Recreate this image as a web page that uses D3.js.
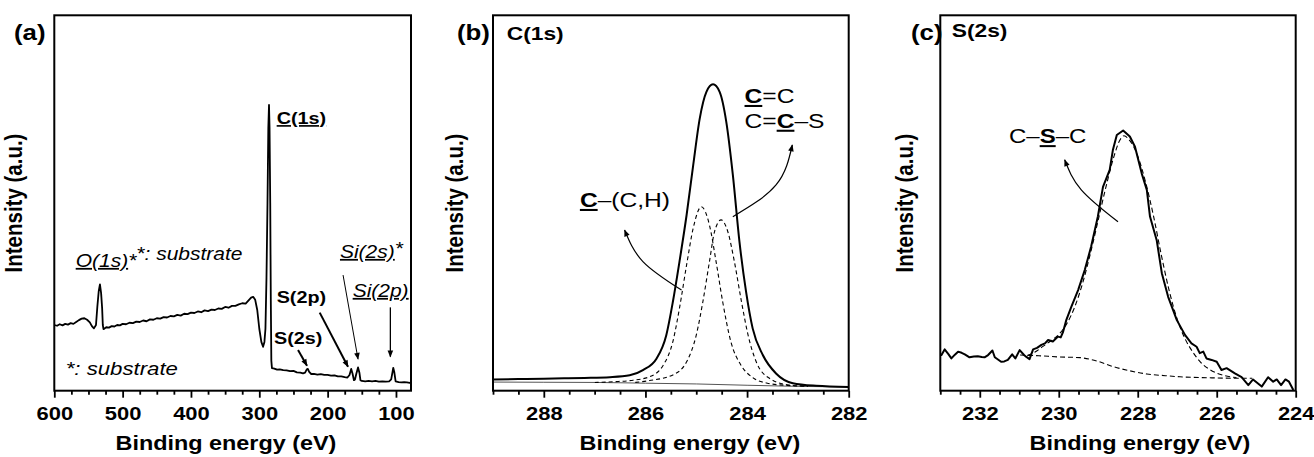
<!DOCTYPE html>
<html><head><meta charset="utf-8">
<script src="https://cdn.jsdelivr.net/npm/d3@7"></script>
<style>body{margin:0;background:#fff}svg{display:block}</style>
</head><body>
<svg id="chart" width="1314" height="457"></svg>
<script>
// ---------------- DATA (binding energy eV, intensity a.u.) ----------------
const surveyData = [[600,17.5],[596,17.3],[592,17.7],[588,17.4],[584,17.8],[580,17.6],[576,18.0],[572,17.8],[568,18.3],[564,18.8],[560,19.2],[556,19.3],[552,18.9],[548,18.2],[545,17.2],[542,16.6],[539,17.5],[537,22.4],[535,26.5],[533.2,28.3],[531.5,26.0],[530,22.0],[529,17.5],[528,16.4],[524,16.9],[520,16.8],[516,17.2],[512,17.1],[508,17.5],[504,17.4],[500,17.8],[495,17.7],[490,18.1],[485,18.0],[480,18.4],[475,18.3],[470,18.7],[465,18.5],[460,19.0],[455,18.9],[450,19.3],[445,19.2],[440,19.6],[435,19.5],[430,19.9],[425,19.8],[420,20.2],[415,20.0],[410,20.5],[405,20.4],[400,20.8],[395,20.7],[390,21.1],[385,20.9],[380,21.4],[375,21.2],[370,21.6],[365,21.5],[360,21.9],[355,21.8],[350,22.3],[345,22.1],[340,22.6],[335,22.6],[330,23.0],[325,23.3],[320,23.2],[316,24.0],[312,24.8],[309,25.0],[306,24.2],[303,21.5],[300,16.5],[297,13.0],[294.5,11.7],[292.5,13.0],[291,16.5],[289.5,30],[288,50],[286.8,70],[285.8,76.1],[285,70],[284,50],[283.2,25],[282.4,8.0],[281.5,6.0],[278,5.9],[274,5.6],[270,5.7],[265,5.5],[260,5.4],[255,5.2],[250,5.3],[245,4.9],[240,4.8],[236,4.6],[233,4.8],[230.5,5.7],[229,5.8],[227,5.0],[224,4.45],[220,4.5],[215,4.3],[210,4.4],[205,4.2],[200,4.2],[195,4.0],[190,4.1],[185,3.8],[180,3.8],[175,3.6],[171,3.5],[168,4.2],[165.5,5.8],[163.5,4.5],[161.5,2.8],[160,3.0],[158,4.5],[155.5,6.2],[153.5,4.8],[152,2.8],[150,2.6],[145,2.5],[140,2.6],[135,2.5],[130,2.6],[125,2.4],[120,2.5],[115,2.4],[110,2.5],[107,3.0],[105,5.0],[104,6.1],[102.5,5.0],[100.5,2.5],[96,2.3],[92,2.2],[88,2.3],[84,2.2],[80,2.1],[78,2.2]];

const c1sMeasured = [[289,3.0],[288.5,3.1],[288,3.2],[287.6,3.3],[287.2,3.4],[286.7,3.6],[286.31,4.1],[286.05,5.5],[285.78,8.6],[285.59,14.8],[285.46,23.7],[285.33,34.4],[285.19,46.8],[285.06,60.1],[284.93,72.6],[284.8,79.6],[284.67,81.6],[284.54,79.6],[284.41,71.7],[284.28,57.5],[284.15,39.7],[284.02,26.4],[283.89,16.6],[283.69,9.5],[283.43,4.6],[283.1,2.0],[282.64,1.3],[282,1.0]];
const c1sBackground = [[289,2.3],[288,2.25],[287,2.2],[286,2.0],[285,1.8],[284,1.45],[283,1.15],[282,1.0]];
const c1sComponentCH = [[287.0,2.2],[286.6,2.4],[286.24,2.8],[285.92,3.7],[285.65,6.8],[285.46,13.1],[285.33,22.0],[285.19,33.5],[285.06,43.3],[284.9,49.0],[284.74,44.1],[284.61,34.4],[284.48,23.7],[284.32,13.1],[284.12,6.8],[283.9,3.6],[283.6,2.0],[283.2,1.4],[282.8,1.2]];
const c1sComponentCC = [[286.2,2.2],[285.92,2.7],[285.46,4.2],[285.19,7.7],[285.0,14.8],[284.87,23.7],[284.74,34.4],[284.64,42.4],[284.51,45.5],[284.38,42.4],[284.25,34.4],[284.11,23.7],[283.98,14.8],[283.82,7.7],[283.56,3.3],[283.17,1.5],[282.8,1.2]];

const s2sMeasured = [[233.0,9.5],[232.97,9.5],[232.89,11.0],[232.8,9.8],[232.72,8.6],[232.63,9.6],[232.55,10.4],[232.46,10.1],[232.38,9.7],[232.26,8.9],[232.15,9.1],[232.05,9.2],[231.95,9.0],[231.88,8.9],[231.79,9.5],[231.68,10.7],[231.62,8.9],[231.46,7.7],[231.38,7.8],[231.29,8.2],[231.18,9.7],[231.1,8.6],[230.99,10.8],[230.88,9.5],[230.82,9.0],[230.74,8.4],[230.65,11.0],[230.55,11.4],[230.44,12.2],[230.35,12.6],[230.27,13.5],[230.15,13.1],[230.02,14.4],[229.95,14.2],[229.89,15.7],[229.81,18.8],[229.68,22.4],[229.51,26.8],[229.34,32.2],[229.18,38.4],[229.01,46.4],[228.88,54.3],[228.71,58.8],[228.63,64.1],[228.53,68.1],[228.37,69.3],[228.2,67.7],[228.07,65.0],[227.9,57.9],[227.77,53.5],[227.69,46.4],[227.52,40.1],[227.39,31.3],[227.23,25.0],[227.01,18.8],[226.8,14.8],[226.64,12.6],[226.51,11.7],[226.43,10.0],[226.34,10.4],[226.26,8.6],[226.13,8.2],[226.0,7.7],[225.88,5.5],[225.75,6.0],[225.54,4.6],[225.37,3.6],[225.2,1.5],[225.08,3.0],[224.86,1.1],[224.7,3.6],[224.57,2.4],[224.48,3.0],[224.37,1.5],[224.26,3.0],[224.17,2.4],[224.06,0.2]];
const s2sBackground = [[230.98,9.5],[230.5,9.3],[230.0,9.0],[229.46,8.8],[229.0,7.8],[228.62,6.4],[228.2,5.3],[227.77,4.45],[227.3,4.0],[226.93,3.7],[226.2,3.45],[225.41,3.3],[225.1,3.3]];
const s2sFit = [[230.8,9.4],[230.6,10.3],[230.4,11.8],[230.2,13.3],[230.0,15.0],[229.8,17.8],[229.6,22.2],[229.4,28.5],[229.2,36.5],[229.0,45.5],[228.8,54.5],[228.6,62.5],[228.45,66.8],[228.35,67.9],[228.2,66.6],[228.0,62.5],[227.8,55.5],[227.6,46.5],[227.4,36.0],[227.2,26.5],[227.0,19.0],[226.8,13.8],[226.6,10.2],[226.4,7.5],[226.2,5.8],[226.0,4.7],[225.8,4.0],[225.5,3.5]];

const ticksA = [600,500,400,300,200,100];
const ticksB = [288,286,284,282];
const ticksC = [232,230,228,226,224];
const xLabel = "Binding energy (eV)";
const yLabel = "Intensity (a.u.)";

// ---------------- LAYOUT ----------------
const FONT = "'Liberation Sans', Arial, Helvetica, sans-serif";
const SX = 1.2;
const TOP = 15.3, BOTTOM = 390.7;
const svg = d3.select('#chart');
const defs = svg.append('defs');
defs.append('marker').attr('id','arr').attr('viewBox','0 0 10 10').attr('refX',9).attr('refY',5)
  .attr('markerWidth',8).attr('markerHeight',7).attr('markerUnits','userSpaceOnUse').attr('orient','auto')
  .append('path').attr('d','M0,1 L10,5 L0,9 Z').attr('fill','#000');

function addText(g, x, y, spans, o) {
  const w = g.append('g').attr('transform', `translate(${x},${y}) scale(${o.sx||SX},1)` + (o.rotate ? ` rotate(${o.rotate})` : ''));
  const t = w.append('text').attr('font-family', FONT).attr('font-size', o.size)
    .attr('font-weight', o.weight || 'normal').attr('font-style', o.style || 'normal')
    .attr('text-anchor', o.anchor || 'start').attr('fill', '#000');
  spans.forEach(s => {
    const ts = t.append('tspan').text(s.t);
    if (s.b) ts.attr('font-weight', 'bold');
    if (s.u) ts.style('text-decoration', 'underline');
    if (s.dx != null) ts.attr('dx', s.dx);
    if (s.dy != null) ts.attr('dy', s.dy);
  });
  return t;
}

function panel(cfg) {
  const x = d3.scaleLinear().domain(cfg.domain).range([cfg.left, cfg.right]);
  const y = d3.scaleLinear().domain([0, 100]).range([BOTTOM, TOP]);
  const g = svg.append('g');
  const minorAxis = d3.axisBottom(x).tickValues(cfg.minor).tickSize(4).tickFormat('');
  const majorAxis = d3.axisBottom(x).tickValues(cfg.major).tickSize(7).tickFormat(d3.format('d'));
  const ga = g.append('g').attr('transform', `translate(0,${BOTTOM})`).call(minorAxis);
  const gb = g.append('g').attr('transform', `translate(0,${BOTTOM})`).call(majorAxis);
  [ga, gb].forEach(s => { s.select('.domain').remove(); s.selectAll('line').attr('stroke','#000').attr('stroke-width',1.8); });
  gb.selectAll('text').attr('y', 29.5).attr('dy', 0).attr('x', 0).attr('font-family', FONT).attr('font-size', 18)
    .attr('font-weight', 'bold').attr('fill', '#000').attr('transform', 'scale(1.22,1)');
  const lineLin = d3.line().x(d => x(d[0])).y(d => y(d[1]));
  const lineSm = d3.line().x(d => x(d[0])).y(d => y(d[1])).curve(d3.curveMonotoneX);
  cfg.series.forEach(s => {
    g.append('path').datum(s.data).attr('d', s.smooth ? lineSm : lineLin).attr('fill','none')
      .attr('stroke', s.color || '#000').attr('stroke-width', s.width)
      .attr('stroke-dasharray', s.dash || null).attr('stroke-linejoin','round');
  });
  g.append('rect').attr('x', cfg.left).attr('y', TOP).attr('width', cfg.right - cfg.left).attr('height', BOTTOM - TOP)
    .attr('fill','none').attr('stroke','#000').attr('stroke-width',2);
  const arrowLine = d3.line().x(d => x(d[0])).y(d => y(d[1])).curve(d3.curveNatural);
  (cfg.arrows || []).forEach(a => {
    g.append('path').datum(a.pts).attr('d', arrowLine).attr('fill','none').attr('stroke','#000')
      .attr('stroke-width', a.w).attr('marker-end','url(#arr)');
  });
  (cfg.notes || []).forEach(n => addText(g, x(n.at[0]), y(n.at[1]), n.spans, n.o));
  addText(g, cfg.xLabelX, 450, [{t: xLabel}], {size: 19.5, weight: 'bold', anchor: 'middle'});
  addText(g, cfg.yLabelX, (TOP + BOTTOM) / 2, [{t: yLabel}], {size: 20.5, weight: 'bold', anchor: 'middle', rotate: -90});
  addText(g, cfg.tagX, 40, [{t: cfg.tag}], {size: 21.5, weight: 'bold'});
}

const BOLD17 = {size: 16.5, weight: 'bold'};
const IT = {size: 17.5, style: 'italic'};

panel({
  domain: [600, 78], left: 54.3, right: 411, major: ticksA, minor: d3.range(575, 78, -25).filter(v => v % 100 !== 0),
  xLabelX: 226, yLabelX: 22, tag: '(a)', tagX: 14,
  series: [{data: surveyData, width: 1.8}],
  arrows: [
    {pts: [[243.3,10.85],[230.2,6.66]], w: 2},
    {pts: [[211.6,20.8],[170.2,6.4]], w: 2},
    {pts: [[177.4,30.8],[155.5,8.4]], w: 1},
    {pts: [[108.2,22.2],[108.2,9.06]], w: 1.3}
  ],
  notes: [
    {at: [568.7,32.95], spans: [{t:'O(1s)', u:true},{t:'*'},{t:'*: substrate', dy:-7}], o: IT},
    {at: [274.6,71.0], spans: [{t:'C(1s)', u:true}], o: BOLD17},
    {at: [583.3,4.18], spans: [{t:'*: substrate'}], o: {size: 18.5, style: 'italic'}},
    {at: [274.6,23.3], spans: [{t:'S(2p)'}], o: BOLD17},
    {at: [278.5,12.44], spans: [{t:'S(2s)'}], o: BOLD17},
    {at: [181.95,35.35], spans: [{t:'Si(2s)', u:true},{t:'*', dy:-3}], o: IT},
    {at: [163.4,24.96], spans: [{t:'Si(2p)', u:true}], o: IT}
  ]
});

panel({
  domain: [289, 282], left: 493, right: 848.7, major: ticksB, minor: d3.range(289, 281.9, -0.5).filter(v => v % 2 !== 0),
  xLabelX: 690, yLabelX: 463, tag: '(b)', tagX: 457,
  series: [
    {data: c1sBackground, width: 1, color: '#555', smooth: true},
    {data: c1sComponentCH, width: 1.1, dash: '4,3', smooth: true},
    {data: c1sComponentCC, width: 1.1, dash: '4,3', smooth: true},
    {data: c1sMeasured, width: 2, smooth: true}
  ],
  arrows: [
    {pts: [[284.28,46.35],[283.43,54.8],[283.11,65.45]], w: 1.2},
    {pts: [[285.29,26.8],[286.05,34.4],[286.41,42.8]], w: 1.2}
  ],
  notes: [
    {at: [288.73,93.3], spans: [{t:'C(1s)'}], o: {size: 19, weight: 'bold'}},
    {at: [287.29,48.9], spans: [{t:'C', b:true, u:true},{t:'–(C,H)'}], o: {size: 20.5}},
    {at: [284.05,76.6], spans: [{t:'C', b:true, u:true},{t:'=C'}], o: {size: 20.5}},
    {at: [284.05,70.0], spans: [{t:'C='},{t:'C', b:true, u:true},{t:'–S'}], o: {size: 20.5}}
  ]
});

panel({
  domain: [233, 224], left: 940.3, right: 1295.7, major: ticksC, minor: d3.range(233, 223.9, -0.5).filter(v => v % 2 !== 0),
  xLabelX: 1140, yLabelX: 912.5, tag: '(c)', tagX: 911,
  series: [
    {data: s2sBackground, width: 1.1, dash: '5,3', smooth: true},
    {data: s2sFit, width: 1.1, dash: '5,3', smooth: true},
    {data: s2sMeasured, width: 2}
  ],
  arrows: [
    {pts: [[228.5,45.0],[229.43,53.5],[229.85,61.5]], w: 1.2}
  ],
  notes: [
    {at: [232.71,94.2], spans: [{t:'S(2s)'}], o: {size: 19, weight: 'bold'}},
    {at: [231.26,65.9], spans: [{t:'C–'},{t:'S', b:true, u:true},{t:'–C'}], o: {size: 20}}
  ]
});
</script>
</body></html>
